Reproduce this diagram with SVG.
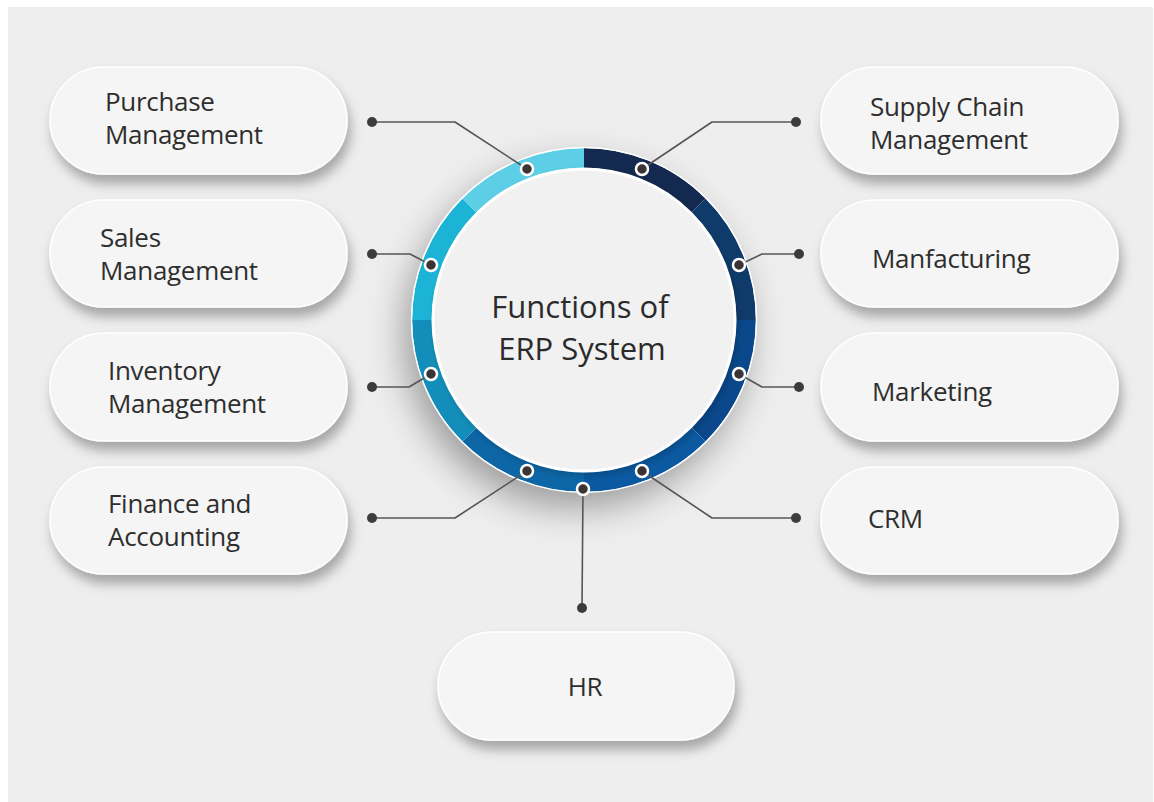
<svg xmlns="http://www.w3.org/2000/svg" width="1154" height="802" viewBox="0 0 1154 802">
  <defs>
    <filter id="pillShadow" x="-20%" y="-30%" width="140%" height="170%">
      <feDropShadow dx="3" dy="9" stdDeviation="6" flood-color="#000" flood-opacity="0.3"/>
    </filter>
    <filter id="ringShadow" x="-40%" y="-40%" width="180%" height="180%">
      <feDropShadow dx="-8" dy="16" stdDeviation="18" flood-color="#000" flood-opacity="0.35"/>
    </filter>
    <filter id="discShadow" x="-10%" y="-10%" width="120%" height="120%">
      <feDropShadow dx="2" dy="3" stdDeviation="3" flood-color="#000" flood-opacity="0.18"/>
    </filter>
  </defs>
  <style>
    .pill { fill: #f5f5f5; stroke: #ffffff; stroke-width: 1.5; filter: url(#pillShadow); }
    .label { font-family: "Open Sans", "Noto Sans", "Liberation Sans", sans-serif; font-size: 26px; fill: #2e2e2e; letter-spacing: -0.3px; }
    .title { font-family: "Open Sans", "Noto Sans", "Liberation Sans", sans-serif; font-size: 31px; fill: #2b2b2b; text-anchor: middle; }
    .seg { fill: none; stroke-width: 20; }
    .wire { fill: none; stroke: #555555; stroke-width: 1.6; stroke-linejoin: round; }
    .end { fill: #3c3c3c; }
    .tap { fill: #3b3434; stroke: #ffffff; stroke-width: 2.5; }
  </style>

  <!-- backdrop -->
  <rect x="0" y="0" width="1154" height="802" fill="#ffffff"/>
  <rect x="8" y="7" width="1145" height="795" fill="#eeeeee"/>

  <!-- left column -->
  <g id="purchase">
    <rect class="pill" x="50" y="67" width="297" height="107" rx="53.5"/>
    <text class="label" x="105" y="111">Purchase</text>
    <text class="label" x="105" y="144">Management</text>
  </g>
  <g id="sales">
    <rect class="pill" x="50" y="200" width="297" height="107" rx="53.5"/>
    <text class="label" x="100" y="247">Sales</text>
    <text class="label" x="100" y="280">Management</text>
  </g>
  <g id="inventory">
    <rect class="pill" x="50" y="333" width="297" height="108" rx="54"/>
    <text class="label" x="108" y="380">Inventory</text>
    <text class="label" x="108" y="413">Management</text>
  </g>
  <g id="finance">
    <rect class="pill" x="50" y="467" width="297" height="107" rx="53.5"/>
    <text class="label" x="108" y="513">Finance and</text>
    <text class="label" x="108" y="546">Accounting</text>
  </g>

  <!-- right column -->
  <g id="supply-chain">
    <rect class="pill" x="821" y="67" width="297" height="107" rx="53.5"/>
    <text class="label" x="870" y="116">Supply Chain</text>
    <text class="label" x="870" y="149">Management</text>
  </g>
  <g id="manufacturing">
    <rect class="pill" x="821" y="200" width="297" height="107" rx="53.5"/>
    <text class="label" x="872" y="268">Manfacturing</text>
  </g>
  <g id="marketing">
    <rect class="pill" x="821" y="333" width="297" height="108" rx="54"/>
    <text class="label" x="872" y="401">Marketing</text>
  </g>
  <g id="crm">
    <rect class="pill" x="821" y="467" width="297" height="107" rx="53.5"/>
    <text class="label" x="868" y="528">CRM</text>
  </g>

  <!-- bottom -->
  <g id="hr">
    <rect class="pill" x="438" y="632" width="296" height="108" rx="54"/>
    <text class="label" x="585" y="696" text-anchor="middle">HR</text>
  </g>

  <!-- hub: segmented ring around the title disc -->
  <g id="erp-core">
    <g filter="url(#ringShadow)">
      <circle cx="584" cy="320" r="172" fill="#ffffff"/>
    </g>
    <path class="seg" stroke="#13294f" d="M584 158 A162 162 0 0 1 698.55 205.45"/>
    <path class="seg" stroke="#0f3b6b" d="M698.55 205.45 A162 162 0 0 1 746 320"/>
    <path class="seg" stroke="#0a488b" d="M746 320 A162 162 0 0 1 698.55 434.55"/>
    <path class="seg" stroke="#0b59a0" d="M698.55 434.55 A162 162 0 0 1 584 482"/>
    <path class="seg" stroke="#0d66a6" d="M584 482 A162 162 0 0 1 469.45 434.55"/>
    <path class="seg" stroke="#138ebb" d="M469.45 434.55 A162 162 0 0 1 422 320"/>
    <path class="seg" stroke="#1cb4d6" d="M422 320 A162 162 0 0 1 469.45 205.45"/>
    <path class="seg" stroke="#5ccfe6" d="M469.45 205.45 A162 162 0 0 1 584 158"/>
    <circle cx="584" cy="320" r="172.5" fill="none" stroke="#ffffff" stroke-width="1.5"/>
    <circle cx="584" cy="320" r="151" fill="#f1f1f1" stroke="#ffffff" stroke-width="3" filter="url(#discShadow)"/>
    <text class="title" x="580" y="318">Functions of</text>
    <text class="title" x="582" y="360">ERP System</text>
  </g>

  <!-- connectors -->
  <g id="connectors">
    <polyline class="wire" points="372,122 455,122 527,169"/>
    <polyline class="wire" points="372,254 410,254 431,265"/>
    <polyline class="wire" points="372,387 409,387 431,374"/>
    <polyline class="wire" points="372,518 455,518 527,471"/>
    <polyline class="wire" points="796,122 712,122 642,169"/>
    <polyline class="wire" points="799,254 762,254 739,265"/>
    <polyline class="wire" points="799,387 762,387 739,374"/>
    <polyline class="wire" points="796,518 712,518 642,471"/>
    <polyline class="wire" points="583,489 582,608"/>

    <circle class="end" cx="372" cy="122" r="5"/>
    <circle class="end" cx="372" cy="254" r="5"/>
    <circle class="end" cx="372" cy="387" r="5"/>
    <circle class="end" cx="372" cy="518" r="5"/>
    <circle class="end" cx="796" cy="122" r="5"/>
    <circle class="end" cx="799" cy="254" r="5"/>
    <circle class="end" cx="799" cy="387" r="5"/>
    <circle class="end" cx="796" cy="518" r="5"/>
    <circle class="end" cx="582" cy="608" r="5"/>

    <circle class="tap" cx="527" cy="169" r="6"/>
    <circle class="tap" cx="431" cy="265" r="6"/>
    <circle class="tap" cx="431" cy="374" r="6"/>
    <circle class="tap" cx="527" cy="471" r="6"/>
    <circle class="tap" cx="642" cy="169" r="6"/>
    <circle class="tap" cx="739" cy="265" r="6"/>
    <circle class="tap" cx="739" cy="374" r="6"/>
    <circle class="tap" cx="642" cy="471" r="6"/>
    <circle class="tap" cx="583" cy="489" r="6"/>
  </g>
</svg>
